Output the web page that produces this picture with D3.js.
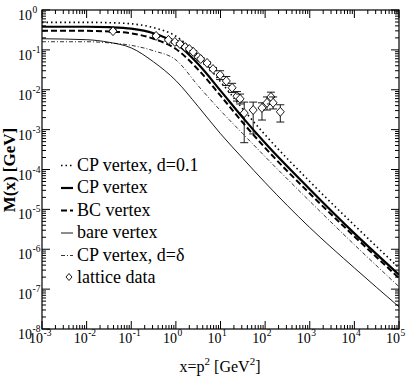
<!DOCTYPE html>
<html>
<head>
<meta charset="utf-8">
<script src="https://cdn.jsdelivr.net/npm/d3@7/dist/d3.min.js"></script>
<style>
  body { margin: 0; background: #fff; }
  text { font-family: "Liberation Serif", "Times New Roman", Times, serif; fill: #000; }
</style>
</head>
<body>
<script>
// momentum grid (GeV^2) the curves were read at
var pGrid = [1e-3, 1e-2, 0.0316, 0.1, 0.316, 1, 3.16, 10, 31.6, 100, 1e3, 1e4, 1e5];

// M(x) in GeV
var cpD01  = [0.49, 0.49, 0.48, 0.45, 0.36, 0.22, 0.071, 0.016, 3.3e-3, 7.4e-4, 5.0e-5, 4.0e-6, 3.4e-7];
var cp     = [0.38, 0.38, 0.37, 0.34, 0.26, 0.145, 0.044, 9.5e-3, 2.0e-3, 4.6e-4, 3.2e-5, 2.5e-6, 2.3e-7];
var bc     = [0.30, 0.30, 0.29, 0.26, 0.19, 0.105, 0.032, 7.1e-3, 1.5e-3, 3.5e-4, 2.5e-5, 2.1e-6, 1.9e-7];
var bare   = [0.19, 0.18, 0.155, 0.112, 0.050, 0.017, 3.8e-3, 7.9e-4, 1.9e-4, 4.7e-5, 3.5e-6, 3.4e-7, 3.6e-8];
var cpDelta= [0.16, 0.16, 0.15, 0.13, 0.095, 0.056, 0.0126, 3.0e-3, 7.9e-4, 2.1e-4, 1.6e-5, 1.3e-6, 1.15e-7];

// lattice data
var latX  = [0.039, 0.36, 0.68, 0.95, 1.23, 1.62, 2.0, 2.45, 3.16, 3.6, 5.0, 6.8, 9.8, 13.5, 18.2, 23.4, 27.5, 34, 54, 85, 110, 135, 151, 219];
var latM  = [0.295, 0.224, 0.178, 0.158, 0.141, 0.117, 0.105, 0.089, 0.066, 0.059, 0.047, 0.033, 0.0234, 0.0166, 0.0112, 0.0069, 0.0059, 0.0026, 0.0031, 0.0035, 0.0047, 0.0066, 0.0047, 0.0028];
var latLo = [0.275, 0.208, 0.166, 0.147, 0.131, 0.109, 0.098, 0.083, 0.061, 0.055, 0.044, 0.030, 0.018, 0.0128, 0.0085, 0.0052, 0.0044, 0.00047, 0.00078, 0.00174, 0.0031, 0.0044, 0.0033, 0.00155];
var latHi = [0.315, 0.240, 0.190, 0.169, 0.151, 0.125, 0.112, 0.095, 0.071, 0.063, 0.050, 0.036, 0.030, 0.0215, 0.0145, 0.0090, 0.0078, 0.0049, 0.0049, 0.0047, 0.0066, 0.0087, 0.0066, 0.0042];

var legendLabels = ["CP vertex, d=0.1", "CP vertex", "BC vertex", "bare vertex", "CP vertex, d=\u03b4", "lattice data"];

var width = 409, height = 382;
var mLeft = 42, mRight = 399, mTop = 10, mBottom = 329;

var svg = d3.select("body").append("svg")
  .attr("width", width)
  .attr("height", height);

var x = d3.scaleLog().domain([1e-3, 1e5]).range([mLeft, mRight]);
var y = d3.scaleLog().domain([1e-8, 1]).range([mBottom, mTop]);

var series = [
  { vals: cpD01,   w: 1.6, dash: "1.5,3" },
  { vals: cp,      w: 2.2, dash: null },
  { vals: bc,      w: 2.0, dash: "6,3" },
  { vals: bare,    w: 0.9, dash: null },
  { vals: cpDelta, w: 0.8, dash: "4,2,1,2" }
];

var line = d3.line()
  .x(function(d) { return x(d[0]); })
  .y(function(d) { return y(d[1]); })
  .curve(d3.curveMonotoneX);

svg.append("defs").append("clipPath").attr("id", "clip")
  .append("rect").attr("x", mLeft).attr("y", mTop)
  .attr("width", mRight - mLeft).attr("height", mBottom - mTop);

var plot = svg.append("g").attr("clip-path", "url(#clip)");

series.forEach(function(s) {
  plot.append("path")
    .datum(pGrid.map(function(p, i) { return [p, s.vals[i]]; }))
    .attr("d", line)
    .attr("fill", "none")
    .attr("stroke", "#000")
    .attr("stroke-width", s.w)
    .attr("stroke-dasharray", s.dash);
});

// lattice points with error bars
var pts = plot.append("g").selectAll("g")
  .data(latX.map(function(v, i) { return { x: v, m: latM[i], lo: latLo[i], hi: latHi[i] }; }))
  .enter().append("g")
    .attr("stroke", "#000")
    .attr("fill", "none")
    .attr("stroke-width", 0.9);

pts.append("line")
  .attr("x1", function(d) { return x(d.x); })
  .attr("x2", function(d) { return x(d.x); })
  .attr("y1", function(d) { return y(d.lo); })
  .attr("y2", function(d) { return y(d.hi); });
pts.append("line")
  .attr("x1", function(d) { return x(d.x) - 4; })
  .attr("x2", function(d) { return x(d.x) + 4; })
  .attr("y1", function(d) { return y(d.lo); })
  .attr("y2", function(d) { return y(d.lo); });
pts.append("line")
  .attr("x1", function(d) { return x(d.x) - 4; })
  .attr("x2", function(d) { return x(d.x) + 4; })
  .attr("y1", function(d) { return y(d.hi); })
  .attr("y2", function(d) { return y(d.hi); });
pts.append("path")
  .attr("fill", "#fff")
  .attr("d", function(d) {
    var cx = x(d.x), cy = y(d.m);
    return "M" + cx + "," + (cy - 4.5) + "L" + (cx + 4) + "," + cy +
      "L" + cx + "," + (cy + 4.5) + "L" + (cx - 4) + "," + cy + "Z";
  });

// frame + ticks on all sides
svg.append("rect")
  .attr("x", mLeft).attr("y", mTop)
  .attr("width", mRight - mLeft).attr("height", mBottom - mTop)
  .attr("fill", "none").attr("stroke", "#000").attr("stroke-width", 1.2);

var ticks = svg.append("g").attr("stroke", "#000").attr("stroke-width", 1);
for (var d = -3; d <= 5; d++) {
  for (var k = 1; k <= 9; k++) {
    var v = k * Math.pow(10, d);
    if (v > 1e5) break;
    var len = k === 1 ? 8 : 4;
    var px = x(v);
    ticks.append("line").attr("x1", px).attr("x2", px).attr("y1", mBottom).attr("y2", mBottom - len);
    ticks.append("line").attr("x1", px).attr("x2", px).attr("y1", mTop).attr("y2", mTop + len);
  }
}
for (var d = -8; d <= 0; d++) {
  for (var k = 1; k <= 9; k++) {
    var v = k * Math.pow(10, d);
    if (v > 1) break;
    var len = k === 1 ? 8 : 4;
    var py = y(v);
    ticks.append("line").attr("y1", py).attr("y2", py).attr("x1", mLeft).attr("x2", mLeft + len);
    ticks.append("line").attr("y1", py).attr("y2", py).attr("x1", mRight).attr("x2", mRight - len);
  }
}

// tick labels 10^n
d3.range(-3, 6).forEach(function(e) {
  var px = x(Math.pow(10, e));
  svg.append("text").attr("x", px + 1).attr("y", mBottom + 14)
    .attr("text-anchor", "end").attr("font-size", 14).text("10");
  svg.append("text").attr("x", px + 1.5).attr("y", mBottom + 7)
    .attr("font-size", 9.5).text(e);
});
d3.range(-8, 1).forEach(function(e) {
  var py = y(Math.pow(10, e));
  svg.append("text").attr("x", 32).attr("y", py + 10)
    .attr("text-anchor", "end").attr("font-size", 14).text("10");
  svg.append("text").attr("x", 32.5).attr("y", py + 3)
    .attr("font-size", 9.5).text(e);
});

// axis titles
var xt = svg.append("text").attr("x", 220).attr("y", 372)
  .attr("text-anchor", "middle").attr("font-size", 16);
xt.append("tspan").text("x=p");
xt.append("tspan").attr("dy", -7).attr("font-size", 11).text("2");
xt.append("tspan").attr("dy", 7).text(" [GeV");
xt.append("tspan").attr("dy", -7).attr("font-size", 11).text("2");
xt.append("tspan").attr("dy", 7).text("]");

svg.append("text")
  .attr("transform", "translate(15,170) rotate(-90)")
  .attr("text-anchor", "middle")
  .attr("font-size", 17)
  .attr("font-weight", "bold")
  .text("M(x) [GeV]");

// legend
var lg = svg.append("g");
legendLabels.forEach(function(lab, i) {
  var by = 170.5 + i * 22.5;
  lg.append("text").attr("x", 77).attr("y", by).attr("font-size", 18).text(lab);
  if (i < 5) {
    lg.append("line")
      .attr("x1", 61).attr("x2", 73).attr("y1", by - 5).attr("y2", by - 5)
      .attr("stroke", "#000")
      .attr("stroke-width", series[i].w)
      .attr("stroke-dasharray", series[i].dash);
  } else {
    var cx = 69, cy = by - 6;
    lg.append("path")
      .attr("d", "M" + cx + "," + (cy - 3.5) + "L" + (cx + 3) + "," + cy +
        "L" + cx + "," + (cy + 3.5) + "L" + (cx - 3) + "," + cy + "Z")
      .attr("fill", "none").attr("stroke", "#000").attr("stroke-width", 0.9);
  }
});
</script>
</body>
</html>
